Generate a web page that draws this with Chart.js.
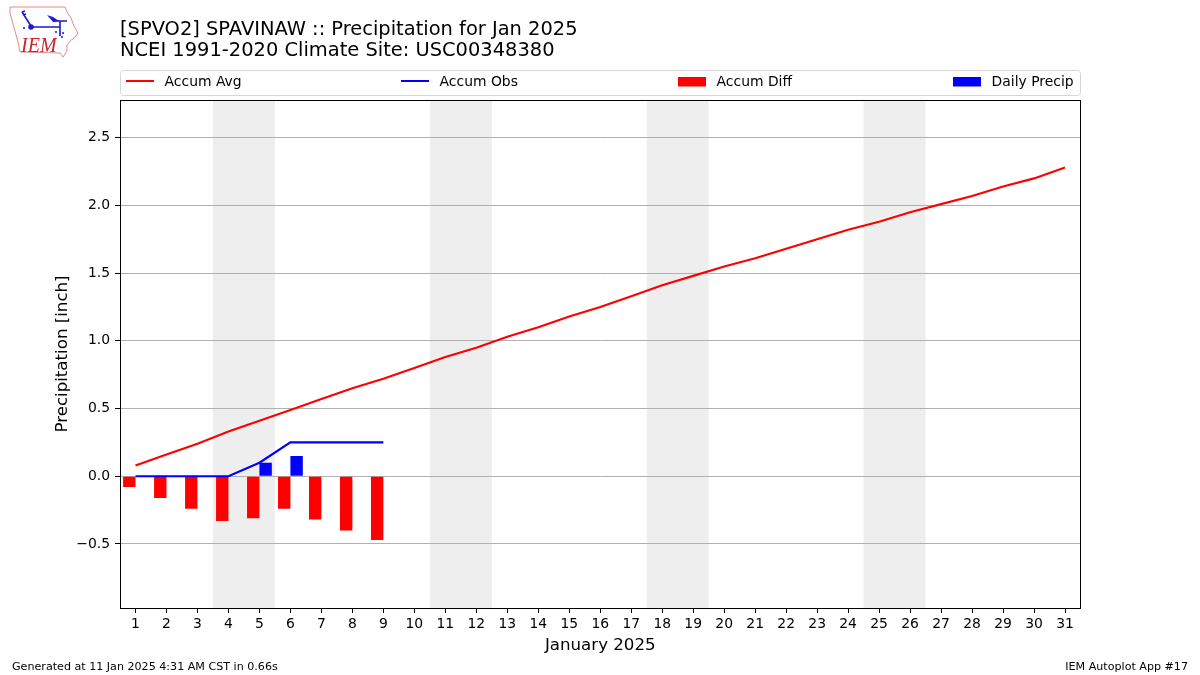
<!DOCTYPE html>
<html>
<head>
<meta charset="utf-8">
<title>SPAVINAW precipitation</title>
<script src="https://cdn.jsdelivr.net/npm/chart.js@4"></script>
<style>
  html, body { margin: 0; padding: 0; background: #fff; }
  #wrap { position: relative; width: 1200px; height: 675px; }
  #logo { position: absolute; left: 0; top: 0; }
</style>
</head>
<body>
<div id="wrap">
  <canvas id="chart" width="1200" height="675"></canvas>
  <svg id="logo" width="90" height="64" viewBox="0 0 90 64">
    <path d="M10 7 L65 7 L67 12 L71 18 L74 26 L78 33 L75 37 L70 41 L67 45 L67 51 L63 57 L60 53 L20 52 L18 42 L13 24 L10 13 Z" fill="none" stroke="#e08a8e" stroke-width="1"/>
    <path d="M31 27 L60 27 M54 21 L67 21 M60 21 L60 36 M22 12 L31 26 M22 12 L25 11 M23 15 L26 14" fill="none" stroke="#1a1ad0" stroke-width="1.6"/>
    <path d="M47 15 L53 17 L59 21 L53 22 Z" fill="#1a1ad0"/>
    <circle cx="31" cy="27" r="2.8" fill="#1a1ad0"/>
    <circle cx="24" cy="28" r="1" fill="#1a1ad0"/>
    <circle cx="56" cy="32" r="1" fill="#1a1ad0"/>
    <circle cx="63" cy="33" r="1" fill="#1a1ad0"/>
    <circle cx="62" cy="37" r="1" fill="#1a1ad0"/>
    <text x="21" y="52" font-family="Liberation Serif" font-style="italic" font-size="20" fill="#c8242c">IEM</text>
  </svg>
</div>
<script>
const days = ['1','2','3','4','5','6','7','8','9','10','11','12','13','14','15','16','17','18','19','20','21','22','23','24','25','26','27','28','29','30','31'];
const accumAvg = [0.08,0.16,0.24,0.33,0.41,0.49,0.57,0.65,0.72,0.80,0.88,0.95,1.03,1.10,1.18,1.25,1.33,1.41,1.48,1.55,1.61,1.68,1.75,1.82,1.88,1.95,2.01,2.07,2.14,2.20,2.28];
const accumObs = [0,0,0,0,0.10,0.25,0.25,0.25,0.25];
const accumDiff = [-0.08,-0.16,-0.24,-0.33,-0.31,-0.24,-0.32,-0.40,-0.47];
const dailyPrecip = [0,0,0,0,0.10,0.15,0,0,0];
const yTicks = [-0.5,0,0.5,1,1.5,2,2.5];
// weekends, as first and last day of each band
const weekends = [[4,5],[11,12],[18,19],[25,26]];

const FONT = '"DejaVu Sans"';

const bands = {
  id: 'bands',
  beforeDraw(chart) {
    const {ctx, chartArea, scales} = chart;
    ctx.save();
    ctx.fillStyle = '#eeeeee';
    weekends.forEach(w => {
      const x0 = scales.x.getPixelForValue(w[0] - 1.5);
      const x1 = scales.x.getPixelForValue(w[1] - 0.5);
      ctx.fillRect(x0, chartArea.top, x1 - x0, chartArea.bottom - chartArea.top);
    });
    ctx.restore();
  }
};

const frame = {
  id: 'frame',
  afterDraw(chart) {
    const {ctx, chartArea} = chart;
    ctx.save();
    ctx.strokeStyle = '#000';
    ctx.lineWidth = 1;
    ctx.strokeRect(chartArea.left + 0.5, chartArea.top + 0.5, chartArea.right - chartArea.left - 0.5, chartArea.bottom - chartArea.top);
    ctx.restore();
  }
};

// matplotlib style legend spread across the axes width
const wideLegend = {
  id: 'wideLegend',
  afterDraw(chart) {
    const ctx = chart.ctx;
    const items = [
      {ds: 0, x: 126},
      {ds: 1, x: 401},
      {ds: 2, x: 678},
      {ds: 3, x: 953}
    ];
    ctx.save();
    ctx.strokeStyle = '#d5d5d5';
    ctx.lineWidth = 1;
    ctx.beginPath();
    ctx.roundRect(120.5, 70.5, 960, 25, 3);
    ctx.stroke();
    ctx.font = '13.9px ' + FONT;
    ctx.textBaseline = 'middle';
    items.forEach(it => {
      const d = chart.data.datasets[it.ds];
      if (d.type === 'line') {
        ctx.strokeStyle = d.borderColor;
        ctx.lineWidth = 2;
        ctx.beginPath();
        ctx.moveTo(it.x, 81);
        ctx.lineTo(it.x + 28, 81);
        ctx.stroke();
      } else {
        ctx.fillStyle = d.backgroundColor;
        ctx.fillRect(it.x, 77, 28, 9.5);
      }
      ctx.fillStyle = '#000';
      ctx.fillText(d.label, it.x + 38.6, 82);
    });
    ctx.restore();
  }
};

const footer = {
  id: 'footer',
  afterDraw(chart) {
    const ctx = chart.ctx;
    ctx.save();
    ctx.font = '11.12px ' + FONT;
    ctx.fillStyle = '#000';
    ctx.textBaseline = 'alphabetic';
    ctx.textAlign = 'left';
    ctx.fillText('Generated at 11 Jan 2025 4:31 AM CST in 0.66s', 12, 670);
    ctx.textAlign = 'right';
    ctx.fillText('IEM Autoplot App #17', 1188, 670);
    ctx.restore();
  }
};

new Chart(document.getElementById('chart').getContext('2d'), {
  type: 'bar',
  data: {
    labels: days,
    datasets: [
      {type: 'line', label: 'Accum Avg', data: accumAvg, borderColor: '#ff0000', borderWidth: 2.1, pointRadius: 0, tension: 0, order: 1},
      {type: 'line', label: 'Accum Obs', data: accumObs, borderColor: '#0000ff', borderWidth: 2.1, pointRadius: 0, tension: 0, order: 0},
      {type: 'bar', label: 'Accum Diff', data: accumDiff, backgroundColor: '#ff0000', order: 2},
      {type: 'bar', label: 'Daily Precip', data: dailyPrecip, backgroundColor: '#0000ff', order: 3}
    ]
  },
  options: {
    responsive: false,
    animation: false,
    devicePixelRatio: 1,
    layout: {padding: {left: 0, right: 119.5, top: 0, bottom: 0}},
    datasets: {bar: {categoryPercentage: 0.8, barPercentage: 1}},
    plugins: {
      legend: {display: false},
      tooltip: {enabled: false},
      title: {
        display: true,
        text: ['[SPVO2] SPAVINAW :: Precipitation for Jan 2025', 'NCEI 1991-2020 Climate Site: USC00348380'],
        align: 'start',
        fullSize: false,
        color: '#000',
        font: {family: FONT, size: 19.44, weight: 'normal', lineHeight: 1.08},
        padding: {top: 19, bottom: 39}
      }
    },
    scales: {
      x: {
        offset: true,
        grid: {offset: false, drawOnChartArea: false, tickLength: 5, tickColor: '#000', tickWidth: 1},
        border: {display: false},
        ticks: {autoSkip: false, maxRotation: 0, color: '#000', padding: 3, font: {family: FONT, size: 13.9}},
        title: {display: true, text: 'January 2025', color: '#000', font: {family: FONT, size: 16.65}, padding: {top: 3, bottom: 19}},
        afterFit(scale) { scale.height = 67; }
      },
      y: {
        min: -0.973,
        max: 2.779,
        grid: {color: '#b0b0b0', lineWidth: 1, tickLength: 5, tickColor: '#000'},
        border: {display: false},
        ticks: {
          color: '#000',
          padding: 5,
          font: {family: FONT, size: 13.9},
          callback: v => (v < 0 ? '\u2212' : '') + Math.abs(v).toFixed(1)
        },
        afterBuildTicks(scale) { scale.ticks = yTicks.map(v => ({value: v})); },
        title: {display: true, text: 'Precipitation [inch]', color: '#000', font: {family: FONT, size: 16.65}, padding: {top: 53, bottom: 0}},
        afterFit(scale) { scale.width = 120; }
      }
    }
  },
  plugins: [bands, frame, wideLegend, footer]
});
</script>
</body>
</html>
